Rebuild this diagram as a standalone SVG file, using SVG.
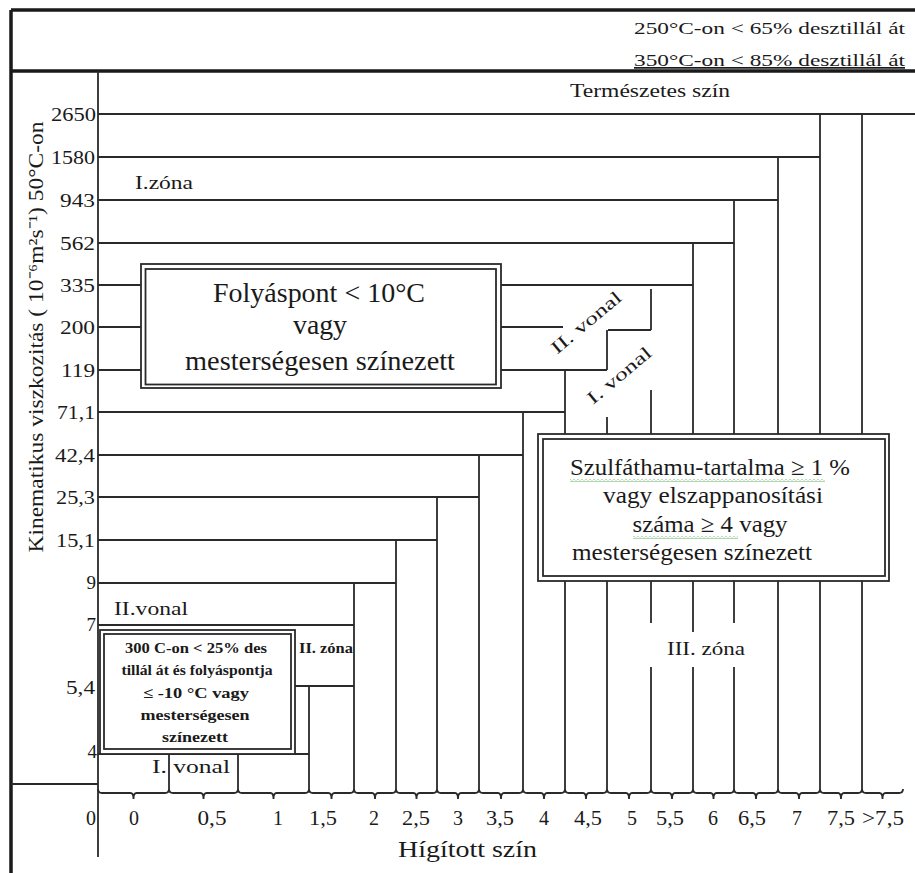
<svg xmlns="http://www.w3.org/2000/svg" width="915" height="873" viewBox="0 0 915 873">
<style>
  .ln{fill:none;stroke:#2a2a2a;stroke-width:1.8}
  .thick{fill:none;stroke:#1a1a1a;stroke-width:3.5}
  .box{fill:#fff;stroke:#2a2a2a;stroke-width:1.8}
  .boxi{fill:none;stroke:#2a2a2a;stroke-width:1.8}
  text{font-family:"Liberation Serif","Times New Roman",serif;fill:#1a1a1a}
  .yl{font-size:19px}
  .xl{font-size:20px;text-anchor:middle}
  .hd{font-size:17px}
  .lab{font-size:19px}
  .big{font-size:27px;text-anchor:middle}
  .mid{font-size:24px;text-anchor:middle}
  .sm{font-size:15px;font-weight:bold;text-anchor:middle}
</style>
<defs>
  <pattern id="wave" width="4" height="3" patternUnits="userSpaceOnUse">
    <path d="M0 0.5 L2 2.5 L4 0.5" fill="none" stroke="#3a9a3a" stroke-width="0.8"/>
  </pattern>
</defs>
<rect width="915" height="873" fill="#fff"/>

<g id="frame">
  <path class="thick" d="M11 10H915M11 71H915M11 10V873"/>
  <path class="ln" d="M98 71V857M11 784H98"/>
</g>

<g id="header">
  <text class="hd" x="634" y="34" textLength="271" lengthAdjust="spacingAndGlyphs">250°C-on &lt; 65% desztillál át</text>
  <text class="hd" x="634" y="66" textLength="271" lengthAdjust="spacingAndGlyphs" text-decoration="underline">350°C-on &lt; 85% desztillál át</text>
  <text class="lab" x="570" y="97" textLength="160" lengthAdjust="spacingAndGlyphs">Természetes szín</text>
</g>

<g id="connectors">
  <path class="ln" d="M98 114H915M98 157H820M98 200H778M98 243H734
    M98 285H141M501 285H693M98 327H141M501 327H563M98 370H141M501 370H607
    M98 412H565M98 455H523M98 497H479M98 540H437M98 583H396M98 625H354
    M295 686H354M98 754H309M608 330H651"/>
  <path class="ln" d="M862 114V789M820 114V789M778 157V789
    M734 200V434M734 581V623M734 667V789
    M693 243V434M693 581V632M693 667V789
    M651 289V330M651 390V434M651 581V623M651 667V789
    M607 330V370M607 417V434M607 581V789
    M565 370V434M565 581V789
    M523 412V789M479 455V789M437 497V789M396 540V789M354 583V789
    M309 686V789M238 754V789M169 754V789"/>
</g>

<g id="x-axis">
  <path class="ln" d="M98 789Q98 793 102 793H130.5Q133.5 793 133.5 799Q133.5 793 136.5 793H165Q169 793 169 789
  M169 789Q169 793 173 793H200.5Q203.5 793 203.5 799Q203.5 793 206.5 793H234Q238 793 238 789
  M238 789Q238 793 242 793H270.5Q273.5 793 273.5 799Q273.5 793 276.5 793H305Q309 793 309 789
  M309 789Q309 793 313 793H328.5Q331.5 793 331.5 799Q331.5 793 334.5 793H350Q354 793 354 789
  M354 789Q354 793 358 793H372Q375 793 375 799Q375 793 378 793H392Q396 793 396 789
  M396 789Q396 793 400 793H413.5Q416.5 793 416.5 799Q416.5 793 419.5 793H433Q437 793 437 789
  M437 789Q437 793 441 793H455Q458 793 458 799Q458 793 461 793H475Q479 793 479 789
  M479 789Q479 793 483 793H498Q501 793 501 799Q501 793 504 793H519Q523 793 523 789
  M523 789Q523 793 527 793H541Q544 793 544 799Q544 793 547 793H561Q565 793 565 789
  M565 789Q565 793 569 793H583Q586 793 586 799Q586 793 589 793H603Q607 793 607 789
  M607 789Q607 793 611 793H626Q629 793 629 799Q629 793 632 793H647Q651 793 651 789
  M651 789Q651 793 655 793H669Q672 793 672 799Q672 793 675 793H689Q693 793 693 789
  M693 789Q693 793 697 793H710.5Q713.5 793 713.5 799Q713.5 793 716.5 793H730Q734 793 734 789
  M734 789Q734 793 738 793H753Q756 793 756 799Q756 793 759 793H774Q778 793 778 789
  M778 789Q778 793 782 793H796Q799 793 799 799Q799 793 802 793H816Q820 793 820 789
  M820 789Q820 793 824 793H838Q841 793 841 799Q841 793 844 793H858Q862 793 862 789
  M862 789Q862 793 866 793H879.5Q882.5 793 882.5 799Q882.5 793 885.5 793H899Q903 793 903 789"/>
  <text class="xl" x="91" y="825">0</text>
  <text class="xl" x="134" y="825">0</text>
  <text class="xl" x="212" y="825" textLength="29" lengthAdjust="spacingAndGlyphs">0,5</text>
  <text class="xl" x="278" y="825">1</text>
  <text class="xl" x="323" y="825" textLength="28" lengthAdjust="spacingAndGlyphs">1,5</text>
  <text class="xl" x="374" y="825">2</text>
  <text class="xl" x="416" y="825" textLength="28" lengthAdjust="spacingAndGlyphs">2,5</text>
  <text class="xl" x="458" y="825">3</text>
  <text class="xl" x="500" y="825" textLength="28" lengthAdjust="spacingAndGlyphs">3,5</text>
  <text class="xl" x="544" y="825">4</text>
  <text class="xl" x="588" y="825" textLength="28" lengthAdjust="spacingAndGlyphs">4,5</text>
  <text class="xl" x="632" y="825">5</text>
  <text class="xl" x="670" y="825" textLength="28" lengthAdjust="spacingAndGlyphs">5,5</text>
  <text class="xl" x="713" y="825">6</text>
  <text class="xl" x="752" y="825" textLength="28" lengthAdjust="spacingAndGlyphs">6,5</text>
  <text class="xl" x="797" y="825">7</text>
  <text class="xl" x="841" y="825" textLength="28" lengthAdjust="spacingAndGlyphs">7,5</text>
  <text class="xl" x="883" y="825" textLength="42" lengthAdjust="spacingAndGlyphs">&gt;7,5</text>
  <text x="398" y="857" font-size="24" textLength="139" lengthAdjust="spacingAndGlyphs">Hígított szín</text>
</g>

<g id="y-axis">
  <text transform="translate(43,337) rotate(-90)" font-size="22" text-anchor="middle" textLength="431" lengthAdjust="spacingAndGlyphs">Kinematikus viszkozitás ( 10⁻⁶m²s⁻¹) 50°C-on</text>
  <text class="yl" x="51" y="121" textLength="45" lengthAdjust="spacingAndGlyphs">2650</text>
  <text class="yl" x="51" y="164" textLength="44" lengthAdjust="spacingAndGlyphs">1580</text>
  <text class="yl" x="60" y="207" textLength="35" lengthAdjust="spacingAndGlyphs">943</text>
  <text class="yl" x="60" y="250" textLength="35" lengthAdjust="spacingAndGlyphs">562</text>
  <text class="yl" x="60" y="292" textLength="35" lengthAdjust="spacingAndGlyphs">335</text>
  <text class="yl" x="60" y="334" textLength="35" lengthAdjust="spacingAndGlyphs">200</text>
  <text class="yl" x="61" y="377" textLength="34" lengthAdjust="spacingAndGlyphs">119</text>
  <text class="yl" x="57" y="419" textLength="38" lengthAdjust="spacingAndGlyphs">71,1</text>
  <text class="yl" x="55" y="462" textLength="40" lengthAdjust="spacingAndGlyphs">42,4</text>
  <text class="yl" x="56" y="504" textLength="39" lengthAdjust="spacingAndGlyphs">25,3</text>
  <text class="yl" x="56" y="547" textLength="39" lengthAdjust="spacingAndGlyphs">15,1</text>
  <text class="yl" x="96" y="589" text-anchor="end">9</text>
  <text class="yl" x="96" y="631" text-anchor="end">7</text>
  <text class="yl" x="66" y="694" textLength="29" lengthAdjust="spacingAndGlyphs">5,4</text>
  <text class="yl" x="97" y="758" text-anchor="end">4</text>
</g>

<g id="zone-labels">
  <text class="lab" x="135" y="189" textLength="58" lengthAdjust="spacingAndGlyphs">I.zóna</text>
  <text class="lab" x="114" y="615" font-size="20" textLength="74" lengthAdjust="spacingAndGlyphs">II.vonal</text>
  <text x="299" y="653" font-size="15" font-weight="bold" textLength="54" lengthAdjust="spacingAndGlyphs">II. zóna</text>
  <text class="lab" x="152" y="773" textLength="78" lengthAdjust="spacingAndGlyphs">I. vonal</text>
  <text class="lab" x="667" y="655" textLength="78" lengthAdjust="spacingAndGlyphs">III. zóna</text>
  <text transform="translate(590,327) rotate(-40)" font-size="18" text-anchor="middle" textLength="86" lengthAdjust="spacingAndGlyphs">II. vonal</text>
  <text transform="translate(623,380) rotate(-40)" font-size="18" text-anchor="middle" textLength="78" lengthAdjust="spacingAndGlyphs">I. vonal</text>
</g>

<g id="box-folyaspont">
  <rect class="box" x="141" y="264" width="360" height="124"/>
  <rect class="boxi" x="145.5" y="269" width="350.5" height="115.5"/>
  <text class="big" x="319" y="302" textLength="212" lengthAdjust="spacingAndGlyphs">Folyáspont &lt; 10°C</text>
  <text class="big" x="320" y="334" textLength="54" lengthAdjust="spacingAndGlyphs">vagy</text>
  <text class="big" x="320" y="370" textLength="270" lengthAdjust="spacingAndGlyphs">mesterségesen színezett</text>
</g>

<g id="box-szulfathamu">
  <rect class="box" x="538" y="434" width="351" height="147"/>
  <rect class="boxi" x="543" y="439" width="342" height="137"/>
  <rect x="570" y="479" width="255" height="3" fill="url(#wave)"/>
  <rect x="633" y="536" width="105" height="3" fill="url(#wave)"/>
  <text class="mid" x="710" y="475" textLength="280" lengthAdjust="spacingAndGlyphs">Szulfáthamu-tartalma ≥ 1 %</text>
  <text class="mid" x="713" y="503" textLength="220" lengthAdjust="spacingAndGlyphs">vagy elszappanosítási</text>
  <text class="mid" x="710" y="532" textLength="155" lengthAdjust="spacingAndGlyphs">száma ≥ 4 vagy</text>
  <text class="mid" x="692" y="560" textLength="240" lengthAdjust="spacingAndGlyphs">mesterségesen színezett</text>
</g>

<g id="box-300c">
  <rect class="box" x="100" y="630" width="195" height="124"/>
  <rect class="boxi" x="104" y="634" width="187" height="115"/>
  <text class="sm" x="196" y="653" textLength="142" lengthAdjust="spacingAndGlyphs">300 C-on &lt; 25% des</text>
  <text class="sm" x="197" y="675" textLength="151" lengthAdjust="spacingAndGlyphs">tillál át és folyáspontja</text>
  <text class="sm" x="196" y="698" textLength="106" lengthAdjust="spacingAndGlyphs">≤ -10 °C vagy</text>
  <text class="sm" x="195" y="720" textLength="109" lengthAdjust="spacingAndGlyphs">mesterségesen</text>
  <text class="sm" x="195" y="742" textLength="66" lengthAdjust="spacingAndGlyphs">színezett</text>
</g>
</svg>
